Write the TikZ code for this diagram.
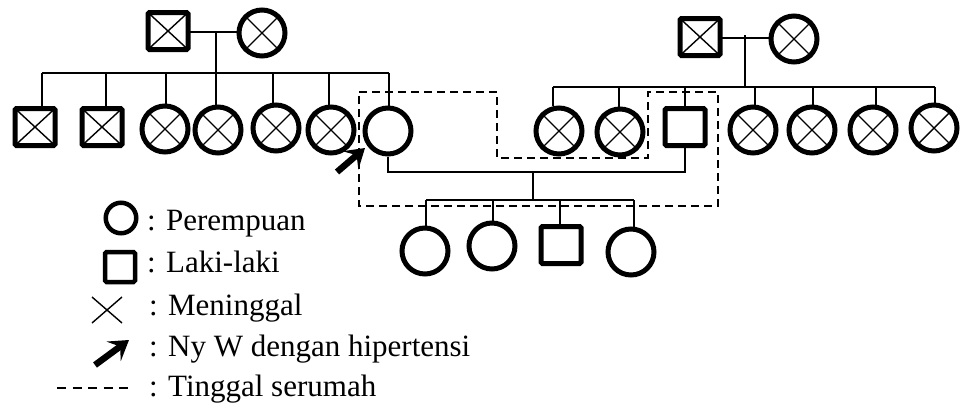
\documentclass[tikz,border=0pt]{standalone}
\usepackage{fontspec}
\setmainfont{Liberation Serif}
\usetikzlibrary{arrows.meta}
\begin{document}
\begin{tikzpicture}[x=1pt,y=-1pt,
  fem/.style={circle, draw, line width=5pt, minimum size=46pt, inner sep=0pt},
  mal/.style={rectangle, draw, line width=5pt, minimum width=40pt, minimum height=37pt, inner sep=0pt, outer sep=0pt, rounded corners=1.5pt},
  link/.style={line width=2pt},
  xline/.style={line width=1.4pt},
  home/.style={line width=2pt, dash pattern=on 8pt off 5pt},
  pointer/.style={line width=6.5pt, -{Stealth[length=19pt,width=24pt,inset=8pt]}},
  lbl/.style={anchor=base west, inner sep=0pt, font=\fontsize{31}{37}\selectfont},
]
\useasboundingbox (0,0) rectangle (962,407);

% ---------- left family ----------
\node[mal] (gf1) at (168,31) {};
\node[fem] (gm1) at (262,33) {};
\node[mal] (s1) at (35,127) {};
\node[mal] (s2) at (102,127) {};
\node[fem] (c3) at (165,129) {};
\node[fem] (c4) at (218,130) {};
\node[fem] (c5) at (276,128) {};
\node[fem] (c6) at (331,130) {};
\node[fem] (nyw) at (388,131) {};

% ---------- right family ----------
\node[mal] (gf2) at (700,37) {};
\node[fem] (gm2) at (794,39) {};
\node[fem] (r1) at (559,131) {};
\node[fem] (r2) at (620,132) {};
\node[mal] (hus) at (685,127) {};
\node[fem] (r4) at (753,130) {};
\node[fem] (r5) at (812,130) {};
\node[fem] (r6) at (873,130) {};
\node[fem] (r7) at (934,128) {};

% ---------- children ----------
\node[fem] (k1) at (425,251) {};
\node[fem] (k2) at (492,246) {};
\node[mal] (k3) at (561,245) {};
\node[fem] (k4) at (631,252) {};

% ---------- crosses (deceased) ----------
\foreach \n in {gf1,gm1,s1,s2,c3,c4,c5,c6,gf2,gm2,r1,r2,r4,r5,r6,r7}{
  \draw[xline] (\n.north west) -- (\n.south east);
  \draw[xline] (\n.north east) -- (\n.south west);
}

% ---------- left family connectors ----------
\coordinate (m1) at (216,32);
\coordinate (sib1) at (216,73);
\draw[link] (gf1.east |- m1) -- (gm1.west |- m1);
\draw[link] (m1) -- (sib1);
\draw[link] (42,73) -- (389,73);
\foreach \n/\x in {s1/42, s2/106, c3/166, c4/216, c5/273, c6/329, nyw/389}
  \draw[link] (\x,73) -- (\x,0 |- \n.north);

% ---------- right family connectors ----------
\coordinate (m2) at (745,38);
\coordinate (sib2) at (745,87);
\draw[link] (gf2.east |- m2) -- (gm2.west |- m2);
\draw[link] (745,35) -- (sib2);
\draw[link] (553,87) -- (935,87);
\foreach \n/\x in {r1/553, r2/619, hus/685, r4/755, r5/813, r6/876, r7/935}
  \draw[link] (\x,87) -- (\x,0 |- \n.north);

% ---------- marriage and children ----------
\coordinate (mar) at (533,172);
\coordinate (kl) at (533,200);
\draw[link] (nyw.south) |- (mar) -| (hus.south);
\draw[link] (mar) -- (kl);
\draw[link] (426,200) -- (634,200);
\foreach \n/\x in {k1/426, k2/493, k3/560, k4/634}
  \draw[link] (\x,200) -- (\x,0 |- \n.north);

% ---------- living together ----------
\draw[home] (359,92) -- (497,92) -- (497,158) -- (648,158) -- (648,92)
  -- (718,92) -- (718,206) -- (359,206) -- cycle;

% ---------- index arrow ----------
\coordinate (ptail) at (337,172);
\coordinate (ptip) at (365,148);
\draw[pointer] (ptail) -- (ptip);

% ---------- legend ----------
\node[circle, draw, line width=4.5pt, minimum size=30.5pt, inner sep=0pt] (lf) at (121,218) {};
\node[rectangle, draw, line width=4.5pt, minimum size=30pt, inner sep=0pt, rounded corners=1.5pt] (lm) at (120,267) {};
\node[minimum width=30pt, minimum height=26pt, inner sep=0pt, outer sep=0pt] (lx) at (107,310) {};
\draw[line width=1.4pt] (lx.north west) -- (lx.south east);
\draw[line width=1.4pt] (lx.north east) -- (lx.south west);
\coordinate (la1) at (95,365);
\coordinate (la2) at (129,340);
\draw[pointer] (la1) -- (la2);
\coordinate (ld1) at (57,388);
\coordinate (ld2) at (131,388);
\draw[line width=1.5pt, dash pattern=on 9pt off 6.5pt] (ld1) -- (ld2);

\node[lbl] (t1) at (147,230) {: Perempuan};
\node[lbl] (t2) at (147,272) {: Laki-laki};
\node[lbl] (t3) at (149,315) {: Meninggal};
\node[lbl] (t4) at (149,356) {: Ny W dengan hipertensi};
\node[lbl] (t5) at (149,396) {: Tinggal serumah};
\end{tikzpicture}
\end{document}
